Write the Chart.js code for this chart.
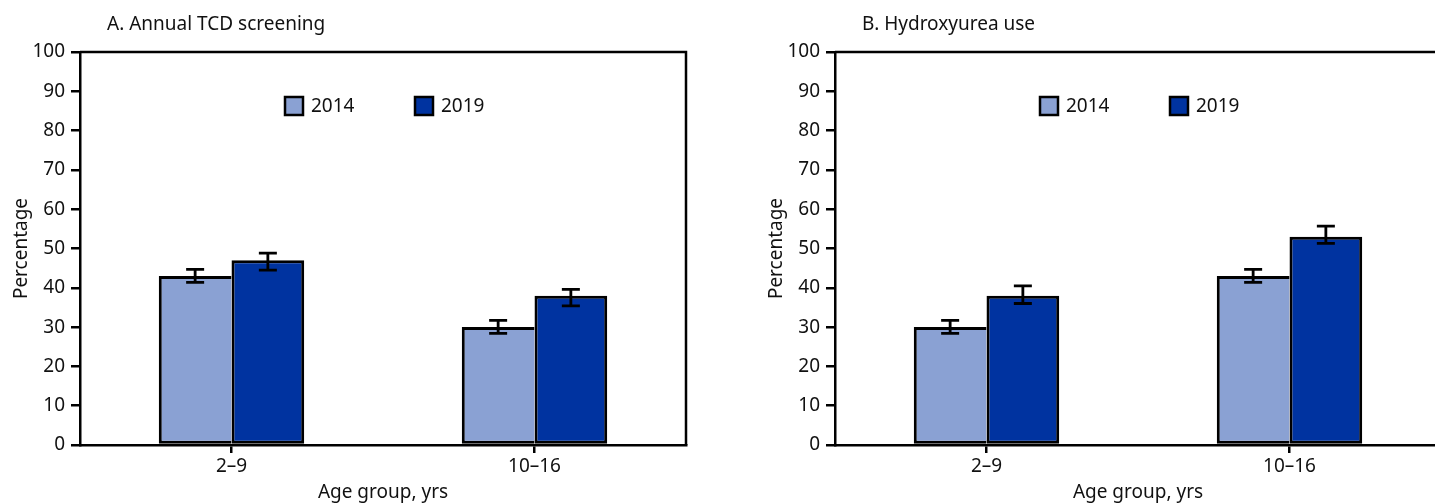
<!DOCTYPE html>
<html>
<head>
<meta charset="utf-8">
<script src="https://cdn.jsdelivr.net/npm/chart.js@4"></script>
<style>
  html, body { margin: 0; padding: 0; background: #fff; }
  #wrap { position: relative; width: 1435px; height: 504px; overflow: hidden; }
  .box { position: absolute; top: 0; width: 700px; height: 504px; }
</style>
</head>
<body>
<div id="wrap">
  <div class="box" style="left:0"><canvas id="chartA"></canvas></div>
  <div class="box" style="left:755px"><canvas id="chartB"></canvas></div>
</div>
<script>
var ageGroups = ["2\u20139", "10\u201316"];
var years = ["2014", "2019"];

// A. Annual TCD screening
var tcd2014 = [43, 30];
var tcd2019 = [47, 38];
var tcd2014Err = [[41.4, 44.7], [28.4, 31.7]];
var tcd2019Err = [[44.5, 48.8], [35.4, 39.6]];

// B. Hydroxyurea use
var hu2014 = [30, 43];
var hu2019 = [38, 53];
var hu2014Err = [[28.4, 31.7], [41.4, 44.7]];
var hu2019Err = [[36.0, 40.5], [51.3, 55.7]];

var yTicks = [0, 10, 20, 30, 40, 50, 60, 70, 80, 90, 100];

var lightBlue = "#8aa1d3";
var darkBlue = "#0033a0";
var FONT = "'Noto Sans', sans-serif";
var FS = 19;

var extras = {
  id: "extras",
  afterDatasetsDraw: function (chart) {
    var c = chart.ctx;
    var a = chart.chartArea;
    var y = chart.scales.y;
    c.save();
    // frame top and right
    c.strokeStyle = "#000";
    c.lineWidth = 2.5;
    c.beginPath();
    c.moveTo(a.left, a.top);
    c.lineTo(a.right, a.top);
    c.lineTo(a.right, a.bottom);
    c.stroke();
    // error bars
    c.lineWidth = 2.8;
    chart.data.datasets.forEach(function (ds, i) {
      var meta = chart.getDatasetMeta(i);
      meta.data.forEach(function (bar, j) {
        var lo = y.getPixelForValue(ds.err[j][0]);
        var hi = y.getPixelForValue(ds.err[j][1]);
        c.beginPath();
        c.moveTo(bar.x, lo); c.lineTo(bar.x, hi);
        c.moveTo(bar.x - 9, lo); c.lineTo(bar.x + 9, lo);
        c.moveTo(bar.x - 9, hi); c.lineTo(bar.x + 9, hi);
        c.stroke();
      });
    });
    // legend
    c.lineWidth = 2.5;
    var mid = (a.left + a.right) / 2;
    var offs = [-98, 32];
    c.font = FS + "px " + FONT;
    c.textBaseline = "middle";
    c.textAlign = "left";
    chart.data.datasets.forEach(function (ds, i) {
      var x0 = mid + offs[i];
      c.fillStyle = ds.backgroundColor;
      c.fillRect(x0, 97, 18, 18);
      c.strokeRect(x0, 97, 18, 18);
      c.fillStyle = "#111";
      c.fillText(ds.label, x0 + 26, 107);
    });
    // panel title
    c.fillText(chart.options.panelTitle, 107, 25);
    c.restore();
  }
};

function makeChart(id, title, v14, v19, e14, e19) {
  return new Chart(document.getElementById(id), {
    type: "bar",
    data: {
      labels: ageGroups,
      datasets: [
        { label: years[0], data: v14, err: e14, backgroundColor: lightBlue,
          borderColor: "#000", borderWidth: { left: 3, top: 3, right: 0, bottom: 3 },
          borderSkipped: false },
        { label: years[1], data: v19, err: e19, backgroundColor: darkBlue,
          borderColor: "#000", borderWidth: 3, borderSkipped: false }
      ]
    },
    options: {
      panelTitle: title,
      responsive: true,
      maintainAspectRatio: false,
      animation: false,
      events: [],
      categoryPercentage: 0.48,
      barPercentage: 1,
      layout: { padding: { top: 52, right: 14, left: 0, bottom: 0 } },
      plugins: { legend: { display: false }, tooltip: { enabled: false } },
      scales: {
        x: {
          offset: true,
          grid: { offset: false, drawOnChartArea: false, drawTicks: true, tickLength: 8, color: "#000", lineWidth: 2.5 },
          border: { color: "#000", width: 2.5 },
          ticks: { color: "#111", font: { family: FONT, size: FS }, padding: 2 },
          title: { display: true, text: "Age group, yrs", color: "#111",
                   font: { family: FONT, size: FS }, padding: { top: 0, bottom: 0 } },
          afterFit: function (s) { s.height = 59; }
        },
        y: {
          min: 0, max: 100,
          afterBuildTicks: function (s) { s.ticks = yTicks.map(function (v) { return { value: v }; }); },
          grid: { drawOnChartArea: false, tickLength: 9, color: "#000", lineWidth: 2.5 },
          border: { color: "#000", width: 2.5 },
          ticks: { color: "#111", font: { family: FONT, size: FS }, padding: 6 },
          title: { display: true, text: "Percentage", color: "#111",
                   font: { family: FONT, size: FS }, padding: { top: 10, bottom: 0 } },
          afterFit: function (s) { s.width = 80; }
        }
      }
    },
    plugins: [extras]
  });
}

makeChart("chartA", "A. Annual TCD screening", tcd2014, tcd2019, tcd2014Err, tcd2019Err);
makeChart("chartB", "B. Hydroxyurea use", hu2014, hu2019, hu2014Err, hu2019Err);
</script>
</body>
</html>
